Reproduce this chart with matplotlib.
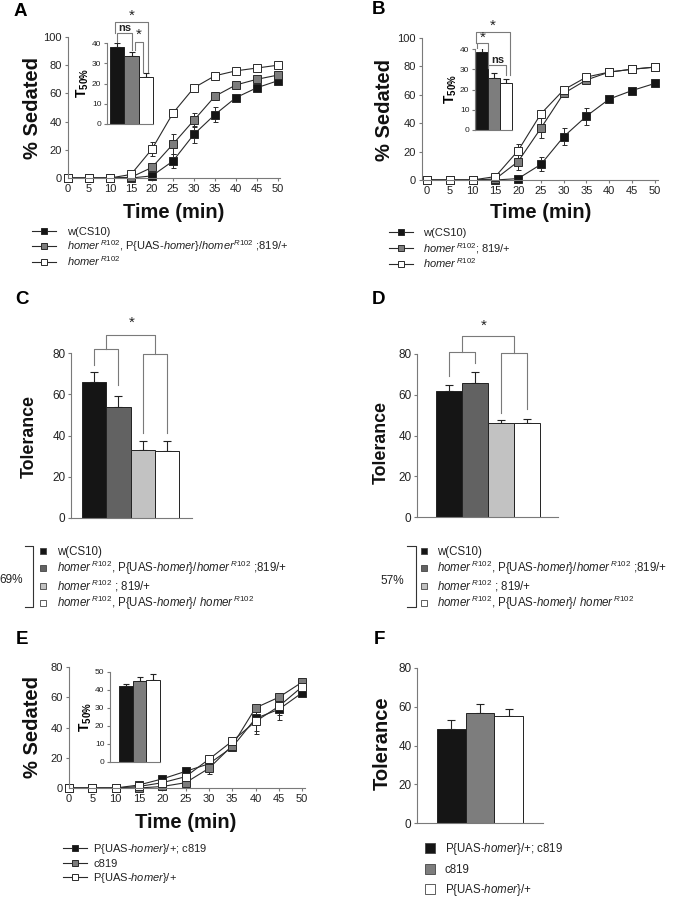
import numpy as np
import matplotlib
matplotlib.use("Agg")
import matplotlib.pyplot as plt
from matplotlib.lines import Line2D

plt.rcParams['font.family'] = 'Liberation Sans'
plt.rcParams['mathtext.fontset'] = 'custom'
plt.rcParams['mathtext.rm'] = 'Liberation Sans'
plt.rcParams['mathtext.it'] = 'Liberation Sans:italic'
plt.rcParams['mathtext.bf'] = 'Liberation Sans:bold'

W, H = 684, 899

# ---- data ----
time = [0, 5, 10, 15, 20, 25, 30, 35, 40, 45, 50]

a_black = [0, 0, 0, 0, 1.5, 12, 31, 45, 57, 64, 69]
a_gray = [0, 0, 0, 0.5, 7.5, 24, 41, 58, 66, 70, 73]
a_white = [0, 0, 0, 2.5, 20.5, 46, 64, 72.5, 76, 78, 80]
a_black_err = [0, 0, 0, 0, 1, 5, 6, 5.5, 2, 2, 1]
a_gray_err = [0, 0, 0, 0, 1.5, 7, 5, 3, 2, 1.5, 1]
a_white_err = [0, 0, 0, 1, 5, 3, 2, 1.5, 1.5, 1.5, 1.5]

b_black = [0, 0, 0, 0, 1, 11, 30.5, 45, 57, 63, 68]
b_gray = [0, 0, 0, 0.7, 13, 36.5, 61, 70.5, 76, 78, 79.5]
b_white = [0, 0, 0, 2.4, 20.7, 46.6, 63.5, 72.5, 76, 78, 79.5]
b_black_err = [0, 0, 0, 0, 1, 5, 6, 6, 2, 2, 1]
b_gray_err = [0, 0, 0, 0, 6, 7, 2, 2, 1, 1, 1]
b_white_err = [0, 0, 0, 0.5, 5, 3, 2, 2, 1, 1.5, 1]

e_black = [0, 0, 0, 2, 6, 11, 16, 27, 46, 52, 63]
e_gray = [0, 0, 0, 0, 1, 3.5, 13, 28, 53, 60, 70]
e_white = [0, 0, 0, 1, 3.5, 7.5, 19, 31, 44, 54, 67]
e_black_err = [0, 0, 0, 0.5, 1, 1.5, 2, 2, 8, 7, 2]
e_gray_err = [0, 0, 0, 0, 0.5, 1.5, 4, 2, 2, 2, 2]
e_white_err = [0, 0, 0, 0.5, 1, 1.5, 3, 2, 8, 6, 2]

# T50% insets
a_t50 = [38, 33.5, 23]
a_t50_err = [2, 2, 2]
b_t50 = [38.5, 25.5, 23]
b_t50_err = [2, 2.5, 2]
e_t50 = [42.5, 45, 45.7]
e_t50_err = [0.7, 2, 3.3]

# tolerance
c_tol = [66, 54, 33, 32.5]
c_tol_err = [5, 5, 4.5, 5]
d_tol = [62, 66, 46, 46]
d_tol_err = [3, 5, 1.5, 2]
f_tol = [48.5, 57, 55]
f_tol_err = [4.5, 4.5, 4]

HR = r'$\mathit{homer}^{\,\mathit{R102}}$'
leg_a = ['w(CS10)',
         HR + ', P{UAS-$\\mathit{homer}$}/$\\mathit{homer}^{\\mathit{R102}}$ ;819/+',
         HR]
leg_b = ['w(CS10)', HR + '; 819/+', HR]
leg_cd = ['w(CS10)',
          HR + ', P{UAS-$\\mathit{homer}$}/$\\mathit{homer}^{\\,\\mathit{R102}}$ ;819/+',
          HR + ' ; 819/+',
          HR + ', P{UAS-$\\mathit{homer}$}/ $\\mathit{homer}^{\\,\\mathit{R102}}$']
leg_ef = ['P{UAS-$\\mathit{homer}$}/+; c819', 'c819', 'P{UAS-$\\mathit{homer}$}/+']

BLACK = '#151515'
GRAY = '#7d7d7d'
DGRAY = '#626262'
LGRAY = '#c2c2c2'
AX = '#7a7a7a'

fig = plt.figure(figsize=(W / 100, H / 100), dpi=100)


def fx(x):
    return x / W


def fy(y):
    return 1 - y / H


def px_axes(left, top, right, bottom):
    ax = fig.add_axes([left / W, 1 - bottom / H, (right - left) / W, (bottom - top) / H])
    ax.patch.set_visible(False)
    for s in ['top', 'right']:
        ax.spines[s].set_visible(False)
    for s in ['left', 'bottom']:
        ax.spines[s].set_color(AX)
        ax.spines[s].set_linewidth(0.8)
    return ax


def sedation(ax, series, errs, xlim, ymax, ystep, fs=8):
    fills = [BLACK, GRAY, 'white']
    for vals, err, fc in zip(series, errs, fills):
        cont = ax.errorbar(time, vals, yerr=err, color='#2a2a2a', lw=0.8, marker='s', ms=5.2,
                           mfc=fc, mec='#2a2a2a', mew=0.7, capsize=1.8, elinewidth=0.7,
                           ecolor='#2a2a2a')
        for ch in cont.get_children():
            ch.set_clip_on(False)
    ax.set_xlim(*xlim)
    ax.set_ylim(0, ymax)
    ax.set_xticks(time)
    ax.set_yticks(np.arange(0, ymax + 1, ystep))
    ax.tick_params(colors=AX, labelcolor='#222', labelsize=fs, length=2.5, width=0.8, pad=2)


def bars(ax, vals, errs, colors, xlim, ymax, ystep, fs, capsize=2):
    x = np.arange(len(vals))
    rects = ax.bar(x, vals, width=1.0, color=colors, edgecolor='#222', linewidth=0.7, zorder=2)
    for r in rects:
        r.set_clip_on(False)
    ax.errorbar(x, vals, yerr=[np.zeros(len(vals)), errs], fmt='none', ecolor='#222',
                elinewidth=0.8, capsize=capsize, capthick=0.8, zorder=1)
    ax.set_xlim(*xlim)
    ax.set_ylim(0, ymax)
    ax.set_xticks([])
    ax.set_yticks(np.arange(0, ymax + 1, ystep))
    ax.tick_params(colors=AX, labelcolor='#222', labelsize=fs, length=2.5, width=0.8, pad=1.5)


def bracket(ax, x0, x1, y, y0, y1, color=AX):
    ax.plot([x0, x0, x1, x1], [y0, y, y, y1], color=color, lw=0.8, clip_on=False)


def line_legend(x_line, x_text, ys, labels, fills, fs=8):
    for y, lab, fc in zip(ys, labels, fills):
        fig.add_artist(Line2D([fx(x_line), fx(x_line + 24)], [fy(y), fy(y)], color='#2a2a2a',
                              lw=0.8, transform=fig.transFigure))
        fig.add_artist(Line2D([fx(x_line + 12)], [fy(y)], marker='s', ms=5, mfc=fc,
                              mec='#2a2a2a', mew=0.7, ls='none', transform=fig.transFigure))
        fig.text(fx(x_text), fy(y + 4), lab, fontsize=fs, ha='left', va='baseline', color='#222')


def square_legend(x_sq, x_text, ys, labels, fills, ms=5, fs=8.3):
    for y, lab, fc in zip(ys, labels, fills):
        fig.add_artist(Line2D([fx(x_sq)], [fy(y)], marker='s', ms=ms, mfc=fc, mec='#444',
                              mew=0.6, ls='none', transform=fig.transFigure))
        fig.text(fx(x_text), fy(y + 4), lab, fontsize=fs, ha='left', va='baseline', color='#222')


def letter(x, y, s):
    fig.text(fx(x), fy(y), s, fontsize=13.5, fontweight='bold', ha='left', va='center')


def big_label(x, y, s, rot=0, fs=14.5):
    fig.text(fx(x), fy(y), s, fontsize=fs, fontweight='bold', ha='center', va='center',
             rotation=rot, color='#111')


def t50_label(ax):
    ax.set_ylabel(r'$\mathbf{T_{50\%}}$', fontsize=10, labelpad=1)


# ---------------- A ----------------
axA = px_axes(68, 37, 280, 178)
sedation(axA, [a_black, a_gray, a_white], [a_black_err, a_gray_err, a_white_err],
         (0, 50.5), 100, 20)
insA = px_axes(107, 43, 153, 124)
bars(insA, a_t50, a_t50_err, [BLACK, GRAY, 'white'], (-0.71, 2.5), 40, 10, 6)
t50_label(insA)
bracket(insA, 0, 1.0, 44.8, 40.7, 36.5)
insA.text(0.5, 45.1, 'ns', fontsize=8, fontweight='bold', ha='center', va='bottom', color='#222')
bracket(insA, 1.22, 1.8, 40.7, 36.5, 25.8)
insA.text(1.5, 40.5, '*', fontsize=11, ha='center', va='bottom', color='#222')
bracket(insA, -0.15, 2.18, 50.5, 44.8, 25.8)
insA.text(1.02, 50, '*', fontsize=11, ha='center', va='bottom', color='#222')
letter(14, 11, 'A')
big_label(32, 108, '% Sedated', rot=90)
big_label(174, 212, 'Time (min)')
line_legend(32, 67, [231, 246, 262], leg_a, [BLACK, GRAY, 'white'])

# ---------------- B ----------------
axB = px_axes(422, 38, 658, 180)
sedation(axB, [b_black, b_gray, b_white], [b_black_err, b_gray_err, b_white_err],
         (-1.1, 50.7), 100, 20)
insB = px_axes(475, 49, 512, 130)
bars(insB, b_t50, b_t50_err, [BLACK, GRAY, 'white'], (-0.6, 2.5), 40, 10, 6)
t50_label(insB)
bracket(insB, -0.46, 0.46, 43, 40.5, 30.6)
insB.text(0.05, 42, '*', fontsize=11, ha='center', va='bottom', color='#222')
bracket(insB, 0.46, 1.97, 32, 30.6, 27)
insB.text(1.3, 32, 'ns', fontsize=8, fontweight='bold', ha='center', va='bottom', color='#222')
bracket(insB, -0.54, 2.33, 48.5, 43, 27)
insB.text(0.88, 48, '*', fontsize=11, ha='center', va='bottom', color='#222')
letter(372, 10, 'B')
big_label(384, 110, '% Sedated', rot=90)
big_label(541, 212, 'Time (min)')
line_legend(389, 423, [232, 248, 264], leg_b, [BLACK, GRAY, 'white'])

# ---------------- C ----------------
axC = px_axes(71, 353, 192, 518)
bars(axC, c_tol, c_tol_err, [BLACK, DGRAY, LGRAY, 'white'], (-0.96, 4.04), 80, 20, 8.5,
     capsize=3)
bracket(axC, 0, 1, 82, 74, 64.5)
bracket(axC, 2, 3, 79.5, 41, 41)
bracket(axC, 0.5, 2.5, 88.7, 82, 79.5)
axC.text(1.54, 91.5, '*', fontsize=11, ha='center', va='bottom', color='#222')
letter(15, 299, 'C')
big_label(29, 437, 'Tolerance', rot=90, fs=12.8)
square_legend(43, 57, [551, 568, 586, 603], leg_cd, [BLACK, DGRAY, LGRAY, 'white'])
fig.add_artist(Line2D([fx(25), fx(33), fx(33), fx(25)], [fy(546), fy(546), fy(607), fy(607)],
                      color='#333', lw=0.8, transform=fig.transFigure))
fig.text(fx(11), fy(580), '69%', fontsize=8.5, ha='center', va='center', color='#222')

# ---------------- D ----------------
axD = px_axes(417, 354, 558, 517)
bars(axD, d_tol, d_tol_err, [BLACK, DGRAY, LGRAY, 'white'], (-1.23, 4.19), 80, 20, 8.5,
     capsize=3)
bracket(axD, 0, 1, 81, 69, 75.6)
bracket(axD, 2, 3, 80.5, 51, 53)
bracket(axD, 0.5, 2.5, 88.8, 81, 80.5)
axD.text(1.35, 90.5, '*', fontsize=11, ha='center', va='bottom', color='#222')
letter(372, 299, 'D')
big_label(381, 442, 'Tolerance', rot=90, fs=12.8)
square_legend(424, 437, [551, 568, 586, 603], leg_cd, [BLACK, DGRAY, LGRAY, 'white'])
fig.add_artist(Line2D([fx(407), fx(416), fx(416), fx(407)], [fy(546), fy(546), fy(607), fy(607)],
                      color='#333', lw=0.8, transform=fig.transFigure))
fig.text(fx(392), fy(581), '57%', fontsize=8.5, ha='center', va='center', color='#222')

# ---------------- E ----------------
axE = px_axes(69, 667, 305, 788)
sedation(axE, [e_black, e_gray, e_white], [e_black_err, e_gray_err, e_white_err],
         (0, 50.6), 80, 20)
insE = px_axes(110, 672, 160, 762)
bars(insE, e_t50, e_t50_err, [BLACK, GRAY, 'white'], (-1.18, 2.5), 50, 10, 6)
t50_label(insE)
letter(16, 640, 'E')
big_label(32, 727, '% Sedated', rot=90)
big_label(186, 823, 'Time (min)')
line_legend(63, 93, [848, 863, 877], leg_ef, [BLACK, GRAY, 'white'])

# ---------------- F ----------------
axF = px_axes(417, 668, 543, 823)
bars(axF, f_tol, f_tol_err, [BLACK, GRAY, 'white'], (-1.2, 3.2), 80, 20, 8.5, capsize=3)
letter(374, 640, 'F')
big_label(382, 743, 'Tolerance', rot=90, fs=14.5)
square_legend(430, 445, [848, 869, 889], leg_ef, [BLACK, GRAY, 'white'], ms=7.5)

fig.savefig('out.png', dpi=100)
